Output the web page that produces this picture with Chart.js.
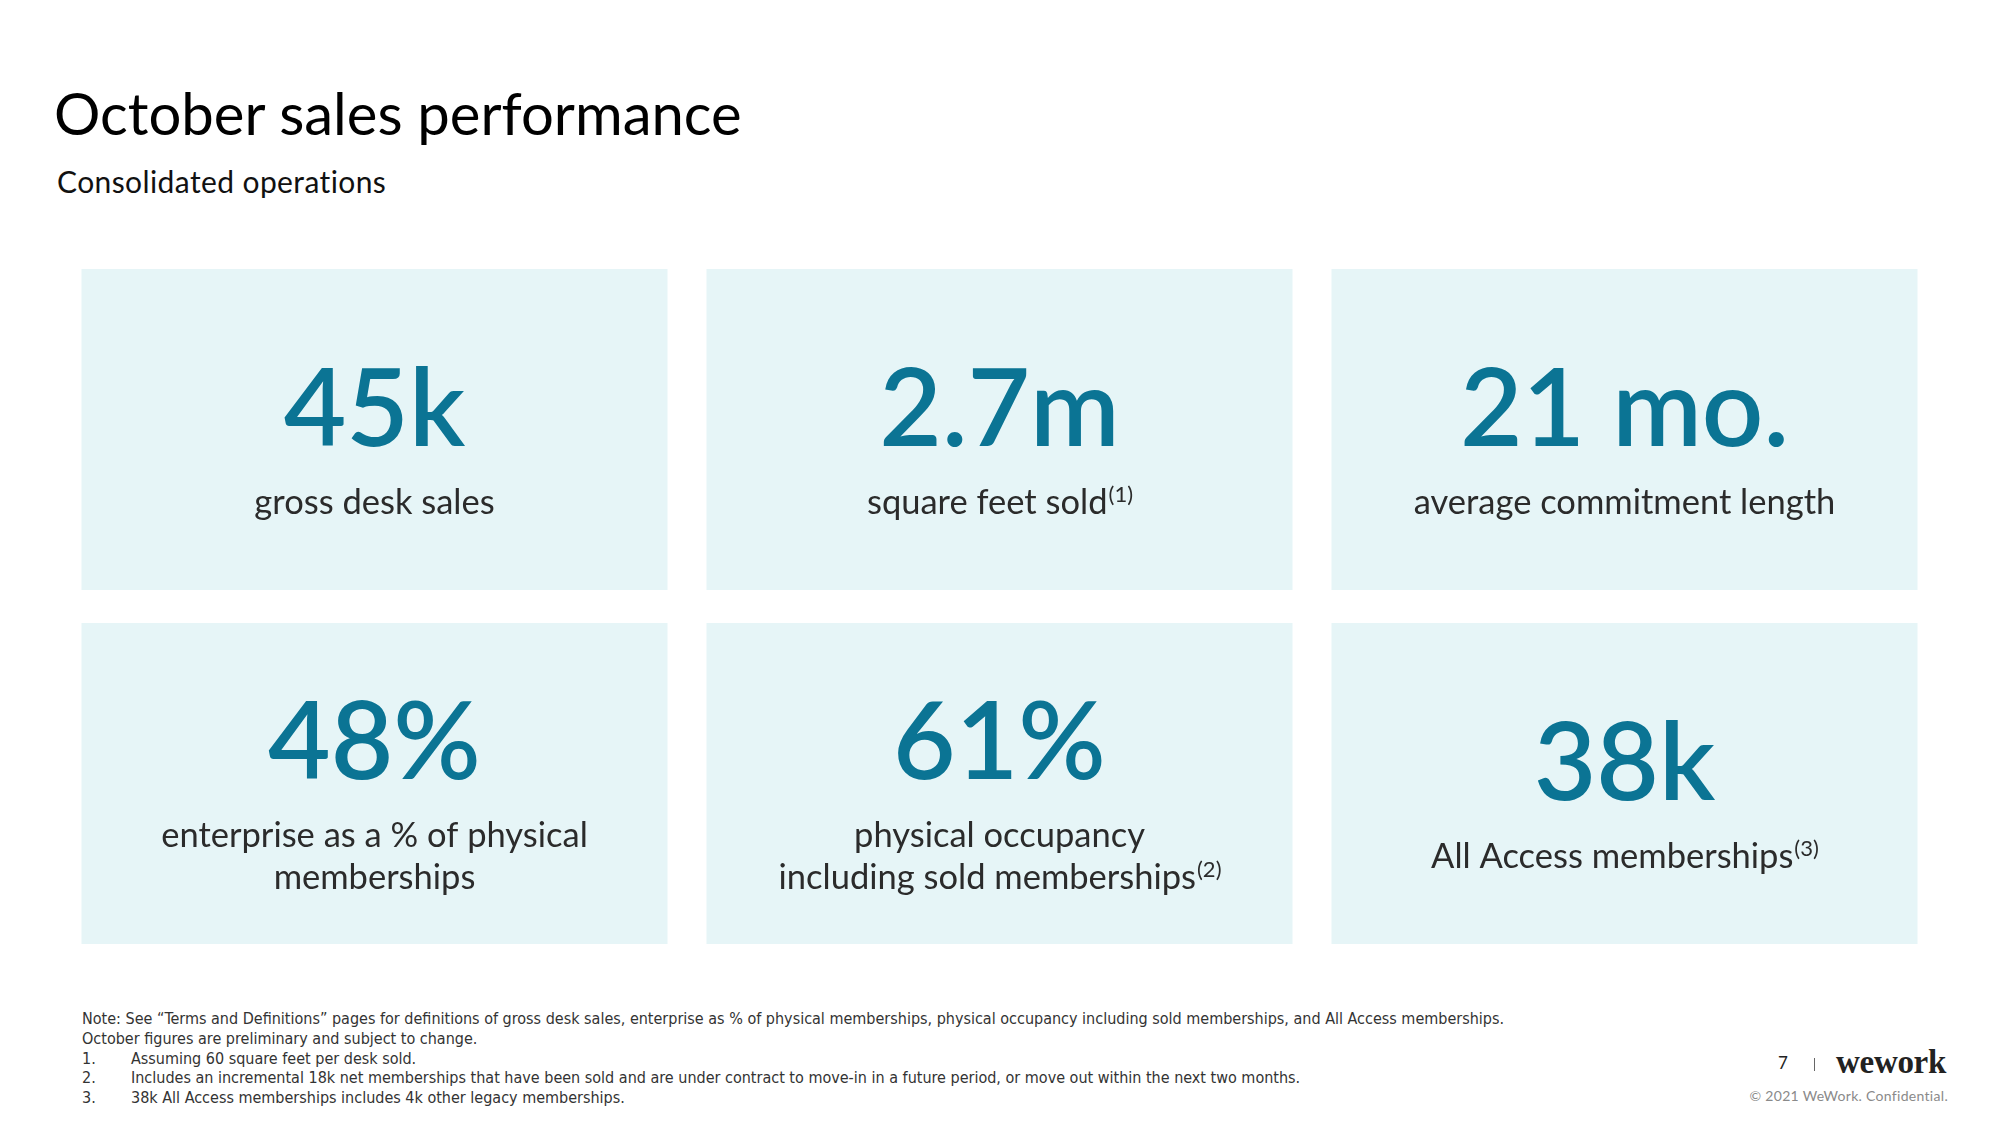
<!DOCTYPE html>
<html>
<head>
<meta charset="utf-8">
<script src="https://cdn.jsdelivr.net/npm/chart.js@4/dist/chart.umd.min.js"></script>
<style>
  html, body { margin: 0; padding: 0; background: #fff; }
  body { width: 2000px; height: 1125px; position: relative; overflow: hidden; font-family: Lato, "Noto Sans", sans-serif; }
  #title { position: absolute; left: 54px; top: 78px; font-size: 58px; color: #000; white-space: nowrap; }
  #subtitle { position: absolute; left: 57px; top: 163px; font-size: 30px; letter-spacing: 0.4px; color: #111; white-space: nowrap; }
  #tiles { position: absolute; left: 62px; top: 269px; }
  #notes { position: absolute; left: 82px; top: 1009px; font-family: "Liberation Sans Narrow", "DejaVu Sans Condensed", sans-serif; font-size: 16px; line-height: 19.8px; color: #333; }
  #notes .n { display: inline-block; width: 49px; }
  #pageNo { position: absolute; left: 1778px; top: 1052px; font-size: 17px; color: #222; }
  #sep { position: absolute; left: 1814px; top: 1058px; width: 1px; height: 13px; background: #666; }
  #logo { position: absolute; left: 1836px; top: 1044px; font-family: "Liberation Serif", "DejaVu Serif", serif; font-weight: bold; font-size: 33px; letter-spacing: -0.3px; color: #222; }
  #copy { position: absolute; right: 52px; top: 1087px; font-size: 14px; color: #8a8a8a; letter-spacing: 0.3px; }
</style>
</head>
<body>
<div id="title">October sales performance</div>
<div id="subtitle">Consolidated operations</div>
<canvas id="tiles" width="1875" height="675"></canvas>
<div id="notes">
  <div>Note: See “Terms and Definitions” pages for definitions of gross desk sales, enterprise as % of physical memberships, physical occupancy including sold memberships, and All Access memberships.</div>
  <div>October figures are preliminary and subject to change.</div>
  <div><span class="n">1.</span>Assuming 60 square feet per desk sold.</div>
  <div><span class="n">2.</span>Includes an incremental 18k net memberships that have been sold and are under contract to move-in in a future period, or move out within the next two months.</div>
  <div><span class="n">3.</span>38k All Access memberships includes 4k other legacy memberships.</div>
</div>
<div id="pageNo">7</div>
<div id="sep"></div>
<div id="logo">wework</div>
<div id="copy">© 2021 WeWork. Confidential.</div>

<script>
// KPI tiles: two rows of three, each tile is a floating bar
const columns = ['left', 'middle', 'right'];

const topValues = ['45k', '2.7m', '21 mo.'];
const topLabels = [['gross desk sales'], ['square feet sold'], ['average commitment length']];
const topNotes = ['', '(1)', ''];

const bottomValues = ['48%', '61%', '38k'];
const bottomLabels = [['enterprise as a % of physical', 'memberships'], ['physical occupancy', 'including sold memberships'], ['All Access memberships']];
const bottomNotes = ['', '(2)', '(3)'];

const TILE_COLOR = '#e6f5f7';
const VALUE_COLOR = '#0b7494';
const LABEL_COLOR = '#2b2b2b';
const ROW_GAP = 0.049; // half gap between the rows, in row units

const rows = [
  { values: topValues, labels: topLabels, notes: topNotes, span: [1 + ROW_GAP, 2] },
  { values: bottomValues, labels: bottomLabels, notes: bottomNotes, span: [0, 1 - ROW_GAP] }
];

// ─── Text inside the tiles ─────────────────────────────────

const LABEL_FONT = '34.5px Lato, "Noto Sans", sans-serif';
const NOTE_FONT = '22px Lato, "Noto Sans", sans-serif';

const tileText = {
  id: 'tileText',
  afterDatasetsDraw(chart) {
    const ctx = chart.ctx;
    ctx.save();
    ctx.textBaseline = 'alphabetic';
    chart.data.datasets.forEach((ds, di) => {
      const row = rows[di];
      chart.getDatasetMeta(di).data.forEach((bar, i) => {
        const top = Math.min(bar.y, bar.base);
        const cx = bar.x;
        const lines = row.labels[i];
        const shift = (lines.length - 1) * 21;

        ctx.fillStyle = VALUE_COLOR;
        ctx.font = '600 108px Lato, "Noto Sans", sans-serif';
        ctx.textAlign = 'center';
        ctx.fillText(row.values[i], cx, top + 177 - shift);

        ctx.fillStyle = LABEL_COLOR;
        lines.forEach((line, li) => {
          const y = top + 245 - shift + li * 42;
          const isLast = li === lines.length - 1;
          const note = isLast ? row.notes[i] : '';
          ctx.font = LABEL_FONT;
          const w = ctx.measureText(line).width;
          ctx.font = NOTE_FONT;
          const nw = note ? ctx.measureText(note).width : 0;
          const x0 = cx - (w + nw) / 2;
          ctx.textAlign = 'left';
          ctx.font = LABEL_FONT;
          ctx.fillText(line, x0, y);
          if (note) {
            ctx.font = NOTE_FONT;
            ctx.fillText(note, x0 + w + 1, y - 12);
          }
        });
      });
    });
    ctx.restore();
  }
};

new Chart(document.getElementById('tiles').getContext('2d'), {
  type: 'bar',
  data: {
    labels: columns,
    datasets: rows.map((r, di) => ({
      label: 'row ' + (di + 1),
      data: columns.map(() => r.span),
      backgroundColor: TILE_COLOR,
      borderWidth: 0,
      borderSkipped: false,
      grouped: false,
      categoryPercentage: 1,
      barPercentage: 0.9376
    }))
  },
  options: {
    responsive: false,
    animation: false,
    events: [],
    layout: { padding: 0 },
    plugins: {
      legend: { display: false },
      tooltip: { enabled: false }
    },
    scales: {
      x: { display: false, offset: true },
      y: { display: false, min: 0, max: 2 }
    }
  },
  plugins: [tileText]
});
</script>
</body>
</html>
